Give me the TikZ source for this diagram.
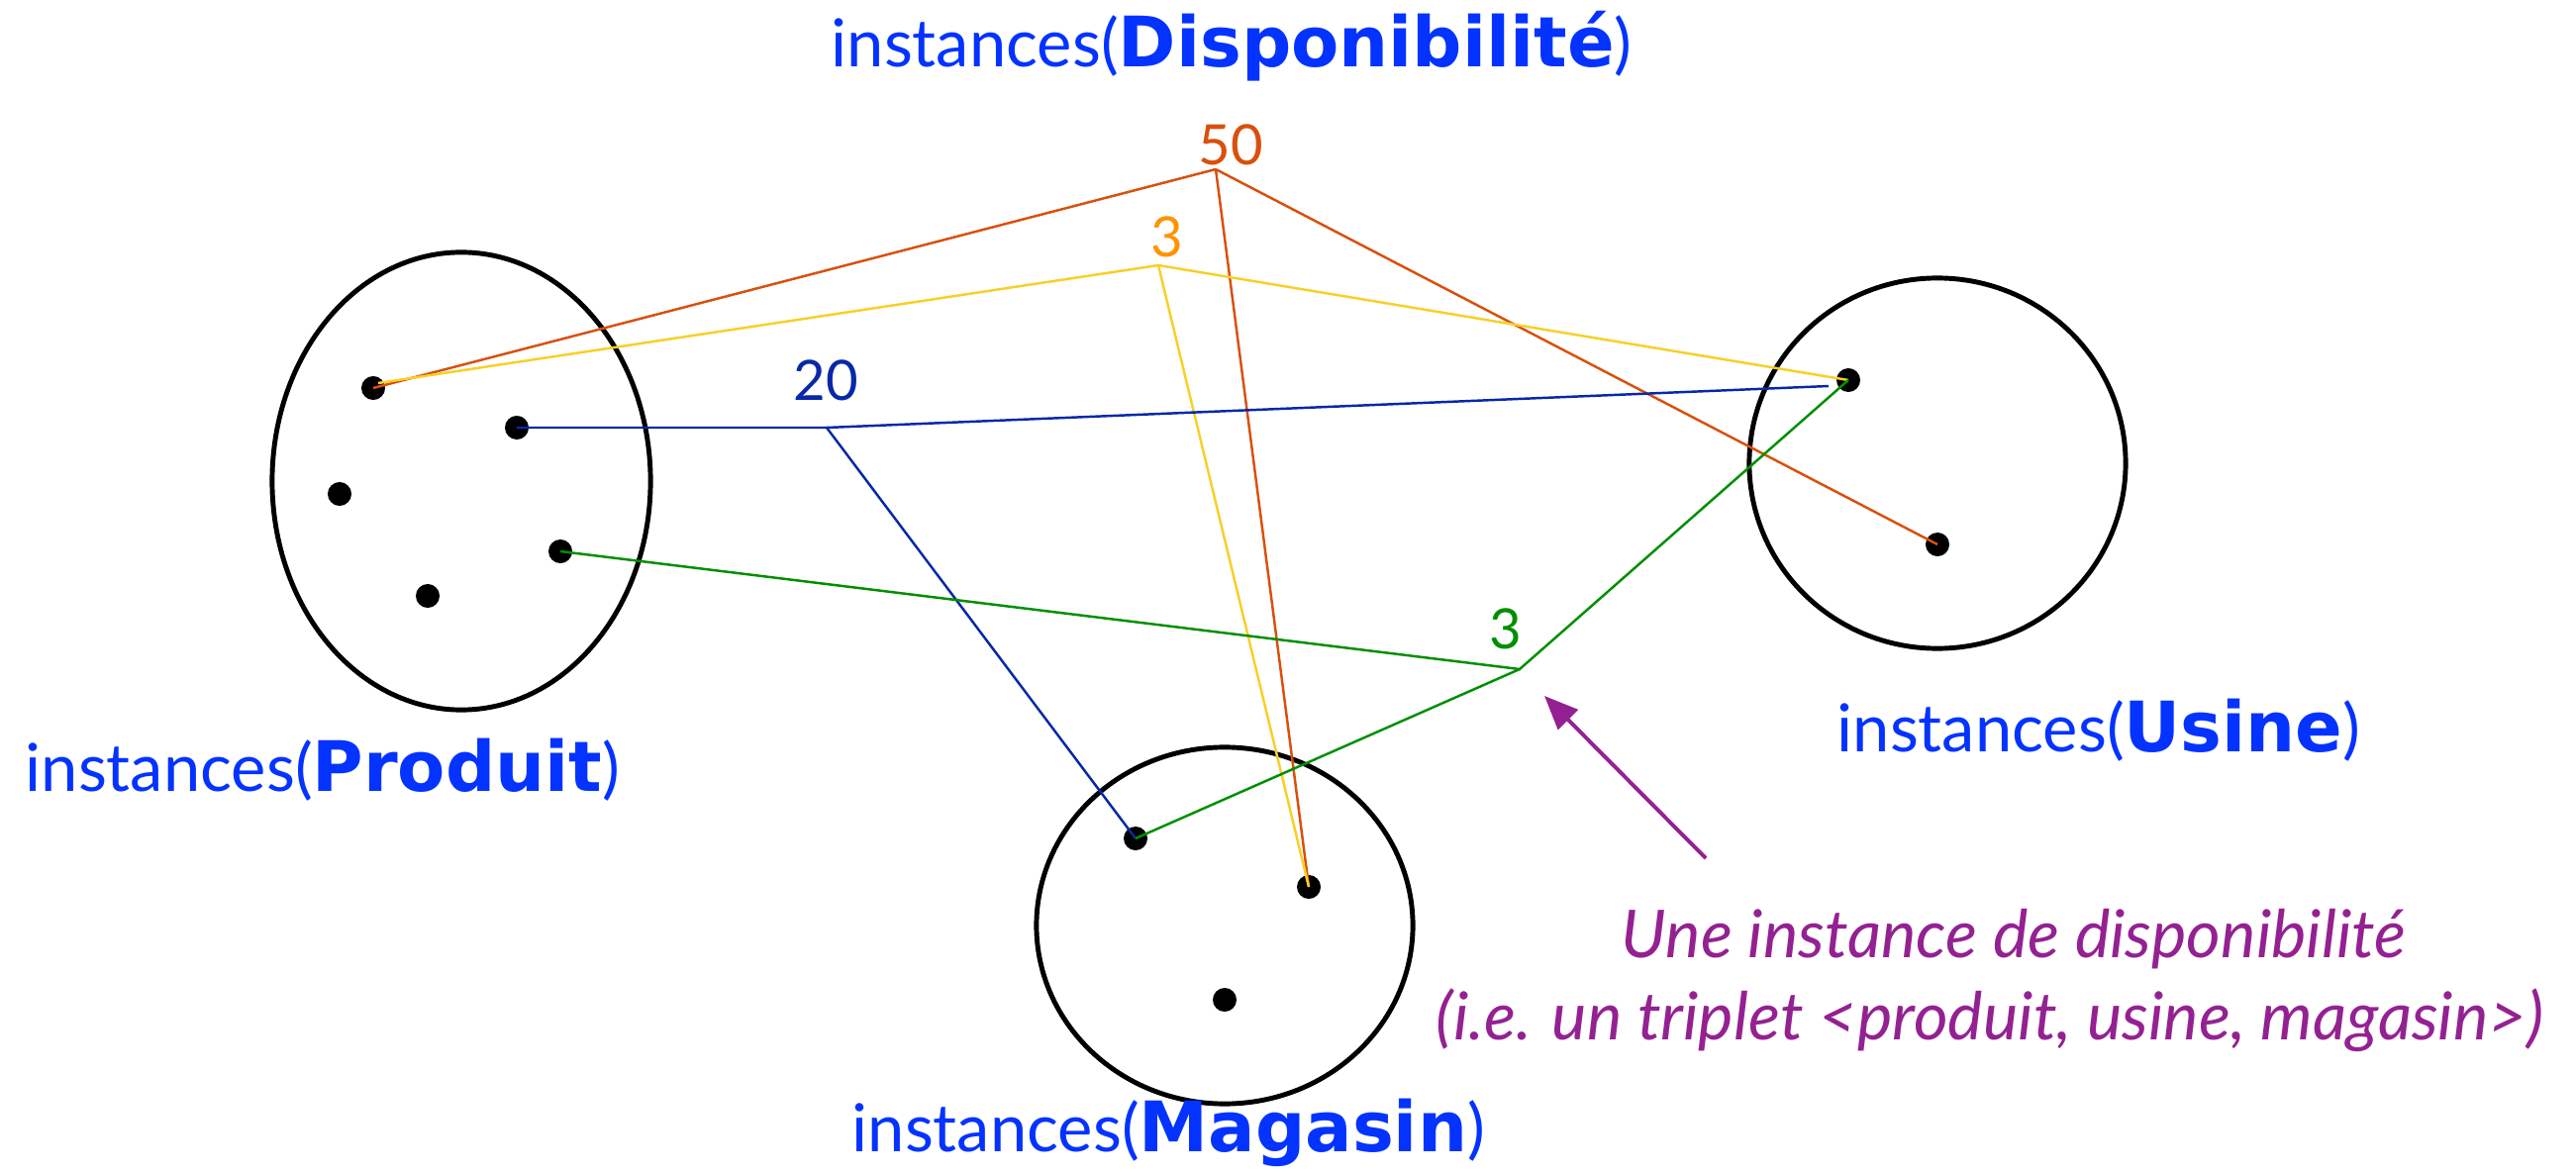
\documentclass[tikz,border=0pt]{standalone}
\usepackage{fontspec}
\setmainfont{Lato}
\newfontfamily\dvsans{DejaVu Sans}
\newcommand\titleb[1]{{\fontsize{20}{22}\selectfont\dvsans\bfseries #1}}
\usetikzlibrary{shapes.geometric,calc,arrows.meta}
\definecolor{lblue}{RGB}{4,51,255}
\definecolor{redline}{RGB}{217,80,12}
\definecolor{orangenum}{RGB}{255,147,0}
\definecolor{yellowline}{RGB}{247,208,40}
\definecolor{blueline}{RGB}{8,40,168}
\definecolor{greenline}{RGB}{0,143,0}
\definecolor{purp}{RGB}{148,33,146}
\begin{document}
\begin{tikzpicture}[x=0.01cm,y=-0.01cm,
  setbox/.style={draw=black,line width=1.4pt,ellipse,inner sep=0pt},
  dot/.style={circle,fill=black,inner sep=0pt,minimum size=0.24cm},
  title/.style={text=lblue,font=\fontsize{19}{22}\selectfont,inner sep=0pt,anchor=base west},
  num/.style={font=\fontsize{16}{18}\selectfont,inner sep=0pt,anchor=base west},
  link/.style={line width=0.7pt},
  note/.style={text=purp,font=\fontsize{19}{24}\selectfont\itshape,inner sep=0pt,anchor=base}]
\useasboundingbox (0,0) rectangle (2602,1185);
\fill[white] (0,0) rectangle (2602,1185);
% sets
\node[setbox,minimum width=3.82cm,minimum height=4.62cm] (P) at (466,486) {};
\node[setbox,minimum width=3.80cm,minimum height=3.74cm] (U) at (1957,468) {};
\node[setbox,minimum width=3.80cm,minimum height=3.60cm] (M) at (1237,935) {};
% instances
\node[dot] (p1) at (377,392) {};
\node[dot] (p2) at (522,432) {};
\node[dot] (p3) at (343,499) {};
\node[dot] (p4) at (566,557) {};
\node[dot] (p5) at (432,602) {};
\node[dot] (u1) at (1867,384) {};
\node[dot] (u2) at (1957,550) {};
\node[dot] (m1) at (1147,847) {};
\node[dot] (m2) at (1322,896) {};
\node[dot] (m3) at (1237,1010) {};
% junctions
\coordinate (d50) at (1228,171);
\coordinate (d3) at (1170,268);
\coordinate (d20) at (835,432);
\coordinate (dg) at (1535,676);
% red triplet
\draw[link,redline] (d50) -- (p1.center);
\draw[link,redline] (d50) -- (u2.center);
\draw[link,redline] (d50) -- (m2.center);
% yellow triplet
\draw[link,yellowline] (d3) -- ($(p1.center)+(5,-5)$);
\draw[link,yellowline] (d3) -- (u1.center);
\draw[link,yellowline] (d3) -- (m2.center);
% blue triplet
\draw[link,blueline] (p2.center) -- (d20) -- ($(u1.center)+(-20,6)$);
\draw[link,blueline] (d20) -- (m1.center);
% green triplet
\draw[link,greenline] (p4.center) -- (dg) -- (u1.center);
\draw[link,greenline] (dg) -- (m1.center);
% values
\node[num,text=redline] (v50) at (1210,167) {50};
\node[num,text=orangenum] (v3a) at (1162,260) {3};
\node[num,text=blueline] (v20) at (801,405) {20};
\node[num,text=greenline] (v3b) at (1504,655) {3};
% titles
\node[title] (tD) at (839,68) {instances(\titleb{Disponibilité})};
\node[title] (tP) at (25,799) {instances(\titleb{Produit})};
\node[title] (tU) at (1855,759) {instances(\titleb{Usine})};
\node[title] (tM) at (860,1163) {instances(\titleb{Magasin})};
% note
\node[note] (n1) at (2034,967) {Une instance de disponibilité};
\node[note] (n2) at (2010,1050) {(i.e. un triplet <produit, usine, magasin>)};
\coordinate (at) at (1723,867);
\coordinate (ah) at (1560,703);
\draw[purp,line width=1.1pt,-{Triangle[length=0.34cm,width=0.28cm]}] (at) -- (ah);
\end{tikzpicture}
\end{document}
